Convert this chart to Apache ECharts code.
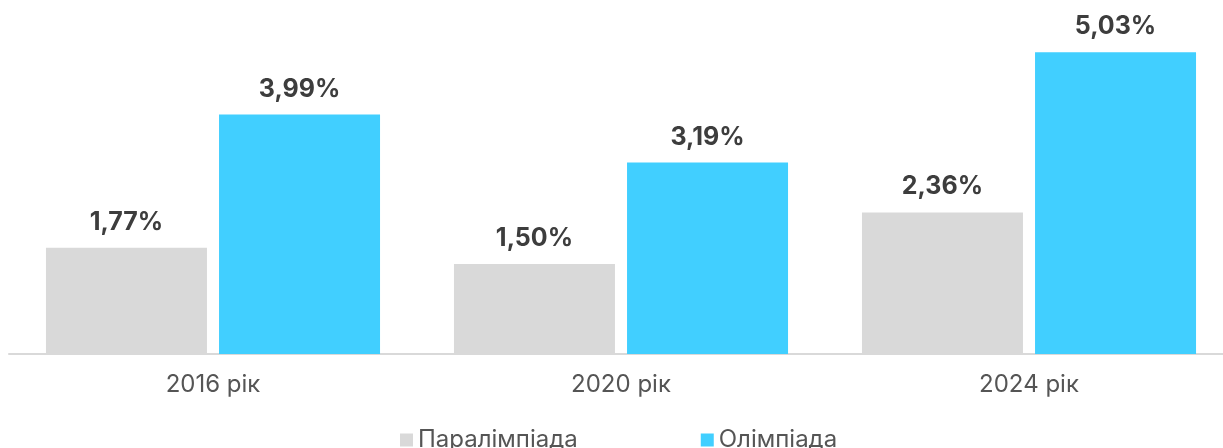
<!DOCTYPE html>
<html>
<head>
<meta charset="utf-8">
<script src="https://cdn.jsdelivr.net/npm/echarts@6/dist/echarts.min.js"></script>
<style>
  html, body { margin: 0; padding: 0; background: #fff; overflow: hidden; }
  /* plot area runs past the right edge in the original, so the canvas is a bit wider than the window */
  #main { width: 1240px; height: 448px; }
</style>
</head>
<body>
<div id="main"></div>
<script>
var years = ["2016 рік", "2020 рік", "2024 рік"];
var paraValues = [1.77, 1.50, 2.36];
var olympValues = [3.99, 3.19, 5.03];
var seriesNames = ["Паралімпіада", "Олімпіада"];

function fmt(p) {
  return p.value.toFixed(2).replace(".", ",") + "%";
}

var myChart = echarts.init(document.getElementById("main"));
var labelStyle = {
  show: true,
  position: "top",
  distance: 13,
  formatter: fmt,
  color: "#3d3d3d",
  fontFamily: "Inter",
  fontWeight: "bold",
  fontSize: 25
};
myChart.setOption({
  animation: false,
  textStyle: { fontFamily: "Inter" },
  grid: { left: 9, right: 7, top: 24, bottom: 94 },
  legend: {
    top: 423,
    left: 395,
    itemWidth: 13,
    itemHeight: 13,
    itemGap: 123,
    icon: "rect",
    textStyle: { color: "#555", fontSize: 24, fontFamily: "Inter" },
    data: seriesNames
  },
  xAxis: {
    type: "category",
    data: years,
    axisTick: { show: false },
    axisLine: { lineStyle: { color: "#d9d9d9", width: 2 } },
    axisLabel: { color: "#555", fontSize: 24, margin: 19 }
  },
  yAxis: {
    type: "value",
    min: 0,
    max: 5.5,
    show: false,
    splitLine: { show: false }
  },
  series: [
    {
      name: seriesNames[0],
      type: "bar",
      data: paraValues,
      barWidth: 161,
      barGap: "7.5%",
      itemStyle: { color: "#d9d9d9" },
      label: labelStyle
    },
    {
      name: seriesNames[1],
      type: "bar",
      data: olympValues,
      barWidth: 161,
      barGap: "7.5%",
      itemStyle: { color: "#41cfff" },
      label: labelStyle
    }
  ]
});
</script>
</body>
</html>
